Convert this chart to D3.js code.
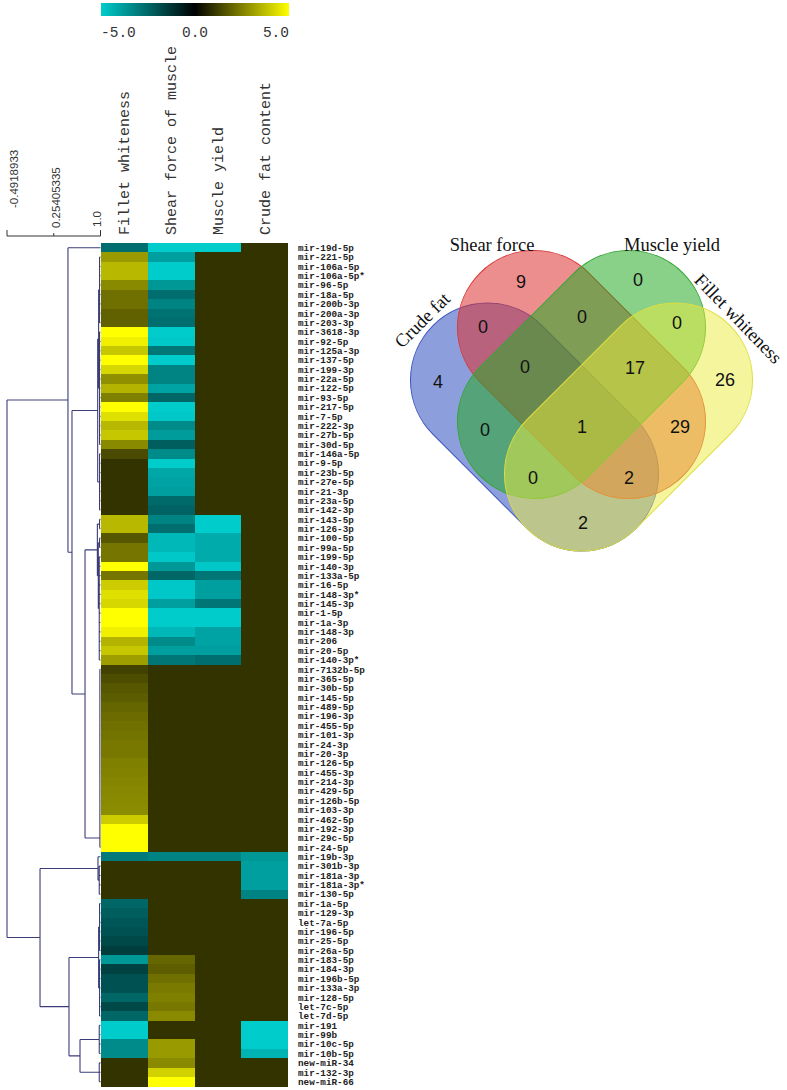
<!DOCTYPE html>
<html><head><meta charset="utf-8">
<script src="https://cdn.jsdelivr.net/npm/d3@7"></script>
<style>body{margin:0;background:#fff}</style>
</head><body><svg id="c" width="787" height="1090" xmlns="http://www.w3.org/2000/svg"></svg>
<script>
// ---------------- DATA ----------------
const columns = ["Fillet whiteness", "Shear force of muscle", "Muscle yield", "Crude fat content"];
const mirnas = ["mir-19d-5p","mir-221-5p","mir-106a-5p","mir-106a-5p*","mir-96-5p","mir-18a-5p","mir-200b-3p","mir-200a-3p","mir-203-3p","mir-3618-3p",
"mir-92-5p","mir-125a-3p","mir-137-5p","mir-199-3p","mir-22a-5p","mir-122-5p","mir-93-5p","mir-217-5p","mir-7-5p","mir-222-3p",
"mir-27b-5p","mir-30d-5p","mir-146a-5p","mir-9-5p","mir-23b-5p","mir-27e-5p","mir-21-3p","mir-23a-5p","mir-142-3p","mir-143-5p",
"mir-126-3p","mir-100-5p","mir-99a-5p","mir-199-5p","mir-140-3p","mir-133a-5p","mir-16-5p","mir-148-3p*","mir-145-3p","mir-1-5p",
"mir-1a-3p","mir-148-3p","mir-206","mir-20-5p","mir-140-3p*","mir-7132b-5p","mir-365-5p","mir-30b-5p","mir-145-5p","mir-489-5p",
"mir-196-3p","mir-455-5p","mir-101-3p","mir-24-3p","mir-20-3p","mir-126-5p","mir-455-3p","mir-214-3p","mir-429-5p","mir-126b-5p",
"mir-103-3p","mir-462-5p","mir-192-3p","mir-29c-5p","mir-24-5p","mir-19b-3p","mir-301b-3p","mir-181a-3p","mir-181a-3p*","mir-130-5p",
"mir-1a-5p","mir-129-3p","let-7a-5p","mir-196-5p","mir-25-5p","mir-26a-5p","mir-183-5p","mir-184-3p","mir-196b-5p","mir-133a-3p",
"mir-128-5p","let-7c-5p","let-7d-5p","mir-191","mir-99b","mir-10c-5p","mir-10b-5p","new-miR-34","mir-132-3p","new-miR-66"];

const fillet = [-2.7,3.0,3.6,3.6,2.7,2.2,2.2,1.9,1.9,5,
4.7,3.9,5,4.2,2.8,3.5,2.5,5,4.4,3.6,
3.9,2.7,1.45,1,1,1,1,1,1,3.6,
3.6,1.7,2.3,2.3,5,2.3,4.0,4.4,4.2,5,
5,4.7,3.5,3.9,3.1,1.3,1.5,1.7,1.8,2.0,
2.1,2.2,2.25,2.35,2.35,2.5,2.55,2.6,2.65,2.7,
2.75,4.0,5,5,5,-3.0,1,1,1,1,
-2.5,-2.3,-2.1,-2.0,-1.8,-1.5,-3.7,-1.6,-2.0,-2.0,
-2.5,-1.8,-2.5,-5,-5,-3.4,-3.4,1,1,1];
const shear = [-5,-3.9,-5,-5,-3.7,-2.7,-3.2,-2.8,-2.7,-5,
-4.9,-2.9,-5,-3.2,-3.2,-4.0,-2.5,-5,-4.9,-3.4,
-3.8,-2.3,-3.4,-5,-4.1,-4.0,-3.9,-2.6,-2.4,-3.2,
-2.7,-4.5,-4.5,-4.9,-3.7,-2.5,-4.9,-4.9,-3.9,-5,
-5,-4.5,-3.4,-3.9,-2.9,1,1,1,1,1,
1,1,1,1,1,1,1,1,1,1,
1,1,1,1,1,-3.2,1,1,1,1,
1,1,1,1,1,1,2.0,1.85,2.2,2.4,
2.5,2.35,2.7,1,1,3.0,3.0,2.7,4.1,5];
const muscle = [-5,1,1,1,1,1,1,1,1,1,
1,1,1,1,1,1,1,1,1,1,
1,1,1,1,1,1,1,1,1,-5,
-5,-4.2,-4.2,-4.2,-4.9,-2.9,-3.9,-3.9,-2.9,-5,
-5,-4.0,-4.0,-3.9,-2.7,1,1,1,1,1,
1,1,1,1,1,1,1,1,1,1,
1,1,1,1,1,-3.2,1,1,1,1,
1,1,1,1,1,1,1,1,1,1,
1,1,1,1,1,1,1,1,1,1];
const crude = [1,1,1,1,1,1,1,1,1,1,
1,1,1,1,1,1,1,1,1,1,
1,1,1,1,1,1,1,1,1,1,
1,1,1,1,1,1,1,1,1,1,
1,1,1,1,1,1,1,1,1,1,
1,1,1,1,1,1,1,1,1,1,
1,1,1,1,1,-3.7,-3.9,-3.9,-3.9,-3.2,
1,1,1,1,1,1,1,1,1,1,
1,1,1,-5,-5,-5,-4.4,1,1,1];

const legendTicks = [-5, 0, 5];
const dendroTicks = [-0.4918933, 0.25405335, 1.0];
const dendroTickLabels = ["-0.4918933", "0.25405335", "1.0"];

// dendrogram: [similarity, ...children]; integers are row indices; {h, chain} = ladder
const dendroTree =
[-0.4918933,
  [0.481, 0,
    [0.545,
      [0.955, [0.97, [0.985,1,2,3,4,5,6,7,8], [0.985,9,10,11,12,13,14,15,16,17,18,19,20,21]], [0.985,22,23,24,25,26,27,28]],
      [0.753,
        [0.95, [0.985,29,30], [0.965, [0.985,31,32], [0.98,33,34,35,36,37,38,39,40,41,42,43,44]]],
        {h: 0.99, chain: [45,46,47,48,49,50,51,52,53,54,55,56,57,58,59,60,61,62,63,64]}
      ]
    ]
  ],
  [0.035,
    [0.96, 65, [0.98,66,67,68,69]],
    [0.497,
      [0.97, [0.985,70,71,72,73,74,75], [0.985,76,77,78,79,80,81,82]],
      [0.673, [0.98,83,84,85,86], [0.98,87,88,89]]
    ]
  ]
];

const vennSets = ["Crude fat", "Shear force", "Muscle yield", "Fillet whiteness"];
const vennCounts = [
  {key:"C", n:4}, {key:"S", n:9}, {key:"M", n:0}, {key:"F", n:26},
  {key:"CS", n:0}, {key:"SM", n:0}, {key:"MF", n:0}, {key:"CM", n:0}, {key:"SF", n:29}, {key:"CF", n:2},
  {key:"CSM", n:0}, {key:"SMF", n:17}, {key:"CMF", n:0}, {key:"CSF", n:2},
  {key:"CSMF", n:1}
];

// ---------------- LAYOUT ----------------
const svg = d3.select("#c");
const fmt = d3.formatLocale({decimal:".", thousands:",", grouping:[3], currency:["",""], minus:"-"}).format(".1f");

const x = d3.scaleBand().domain(columns).range([101, 288]);
const y = d3.scaleBand().domain(d3.range(mirnas.length)).range([243, 1086.3]);
const color = d3.scaleLinear().domain([-5, 0, 5]).range(["#00cccc", "#000000", "#ffff00"]).clamp(true);
const series = [fillet, shear, muscle, crude];

// heatmap cells
const cells = [];
series.forEach((s, ci) => s.forEach((v, ri) => cells.push({c: columns[ci], r: ri, v})));
svg.append("g").attr("shape-rendering", "crispEdges")
  .selectAll("rect").data(cells).join("rect")
  .attr("x", d => x(d.c)).attr("y", d => y(d.r))
  .attr("width", x.bandwidth()).attr("height", y.bandwidth() + 0.4)
  .attr("fill", d => color(d.v));

// row labels
svg.append("g").selectAll("text").data(mirnas).join("text")
  .attr("x", 298).attr("y", (d, i) => y(i) + y.bandwidth() / 2)
  .attr("dy", "0.35em")
  .attr("font-family", "Liberation Mono, monospace").attr("font-size", 9.3)
  .attr("font-weight", "bold").attr("fill", "#222")
  .text(d => d);

// column labels
svg.append("g").selectAll("text").data(columns).join("text")
  .attr("transform", d => `translate(${x(d) + x.bandwidth() / 2 + 5},235) rotate(-90)`)
  .attr("font-family", "Liberation Mono, monospace").attr("font-size", 15)
  .attr("fill", "#333")
  .text(d => d);

// color legend
const defs = svg.append("defs");
const grad = defs.append("linearGradient").attr("id", "lg");
const lx = d3.scaleLinear().domain([-5, 5]).range([101, 289]);
grad.selectAll("stop").data(d3.range(-5, 5.01, 0.5)).join("stop")
  .attr("offset", d => ((d + 5) / 10 * 100) + "%").attr("stop-color", d => color(d));
svg.append("rect").attr("x", lx(-5)).attr("y", 3).attr("width", lx(5) - lx(-5)).attr("height", 13)
  .attr("fill", "url(#lg)");
svg.append("g").selectAll("text").data(legendTicks).join("text")
  .attr("x", d => lx(d)).attr("y", 37)
  .attr("text-anchor", (d, i) => i === 0 ? "start" : i === legendTicks.length - 1 ? "end" : "middle")
  .attr("font-family", "Liberation Mono, monospace").attr("font-size", 14.5).attr("fill", "#333")
  .text(d => fmt(d));

// dendrogram
const xd = d3.scaleLinear().domain([-0.4918933, 1.0]).range([7, 100.5]);
function build(n) {
  if (typeof n === "number") return {leaf: n};
  if (n.chain) {
    let cur = {leaf: n.chain[0]};
    for (let i = 1; i < n.chain.length; i++) cur = {h: n.h, children: [cur, {leaf: n.chain[i]}]};
    return cur;
  }
  const [h, ...kids] = n;
  return {h, children: kids.map(build)};
}
const root = d3.hierarchy(build(dendroTree), d => d.children);
root.eachAfter(nd => {
  if (nd.data.leaf !== undefined) { nd.px = xd(1.0); nd.py = y(nd.data.leaf) + y.bandwidth() / 2; }
  else {
    nd.px = xd(nd.data.h);
    nd.py = (nd.children[0].py + nd.children[nd.children.length - 1].py) / 2;
  }
});
let path = "";
root.each(nd => {
  if (!nd.children) return;
  const c0 = nd.children[0], c1 = nd.children[nd.children.length - 1];
  path += `M${nd.px},${c0.py}V${c1.py}`;
  nd.children.forEach(c => { path += `M${nd.px},${c.py}H${c.px}`; });
});
svg.append("path").attr("d", path).attr("fill", "none").attr("stroke", "#3c3c7a").attr("stroke-width", 1.1);

// dendrogram scale
const ag = svg.append("g").attr("stroke", "#333").attr("fill", "none");
ag.append("line").attr("x1", xd(dendroTicks[0])).attr("x2", xd(dendroTicks[2])).attr("y1", 236).attr("y2", 236);
ag.selectAll(".tk").data(dendroTicks).join("line").attr("class", "tk")
  .attr("x1", d => xd(d)).attr("x2", d => xd(d))
  .attr("y1", (d, i) => i === 1 ? 233 : 230).attr("y2", 236);
const labOff = [[7, 208], [2, 228], [-3.5, 227]];
svg.append("g").selectAll("text").data(dendroTicks).join("text")
  .attr("transform", (d, i) => `translate(${xd(d) + labOff[i][0]},${labOff[i][1]}) rotate(-90)`)
  .attr("dy", "0.35em")
  .attr("font-family", "Liberation Sans, Arial, sans-serif").attr("font-size", 11.5).attr("fill", "#333")
  .text((d, i) => dendroTickLabels[i]);

// ---------------- VENN ----------------
const vennShapes = [
  {cx: 534.5, cy: 427, a: 45, fill: "#2f4fc0", stroke: "#3a55c0"},
  {cx: 581.5, cy: 374.5, a: 45, fill: "#dc3232", stroke: "#d83a3a"},
  {cx: 581.5, cy: 374.5, a: -45, fill: "#28aa28", stroke: "#35a535"},
  {cx: 628.5, cy: 427, a: -45, fill: "#ebeb3c", stroke: "#dede40"}
];
const capsuleLen = 287, capsuleW = 154;
const vg = svg.append("g");
vg.selectAll("rect").data(vennSets).join("rect")
  .attr("transform", (d, i) => `translate(${vennShapes[i].cx},${vennShapes[i].cy}) rotate(${vennShapes[i].a})`)
  .attr("x", -capsuleLen / 2).attr("y", -capsuleW / 2)
  .attr("width", capsuleLen).attr("height", capsuleW)
  .attr("rx", capsuleW / 2).attr("ry", capsuleW / 2)
  .attr("fill", (d, i) => vennShapes[i].fill).attr("fill-opacity", (d, i) => i === 3 ? 0.5 : 0.55)
  .attr("stroke", (d, i) => vennShapes[i].stroke).attr("stroke-width", 1);

const regionPos = {
  C:[438,382], S:[521,282], M:[638,280], F:[725,380],
  CS:[483,327], SM:[582,317], MF:[677,323], CM:[485,430], SF:[680,427], CF:[583,523],
  CSM:[525,367], SMF:[635,368], CMF:[533,478], CSF:[629,478], CSMF:[582,427]
};
vg.selectAll("text.n").data(vennCounts).join("text").attr("class", "n")
  .attr("x", d => regionPos[d.key][0]).attr("y", d => regionPos[d.key][1])
  .attr("dy", "0.35em").attr("text-anchor", "middle")
  .attr("font-family", "Liberation Sans, Arial, sans-serif").attr("font-size", 18).attr("fill", "#111")
  .text(d => d.n);

const setLabelPos = [
  {x: 422, y: 320, r: -45},
  {x: 492, y: 245, r: 0},
  {x: 672, y: 245, r: 0},
  {x: 738.5, y: 318.5, r: 46}
];
vg.selectAll("text.s").data(vennSets).join("text").attr("class", "s")
  .attr("transform", (d, i) => `translate(${setLabelPos[i].x},${setLabelPos[i].y}) rotate(${setLabelPos[i].r})`)
  .attr("dy", "0.35em").attr("text-anchor", "middle")
  .attr("font-family", "Liberation Serif, Times New Roman, serif").attr("font-size", 18.5).attr("fill", "#111")
  .text(d => d);
</script>
</body></html>
